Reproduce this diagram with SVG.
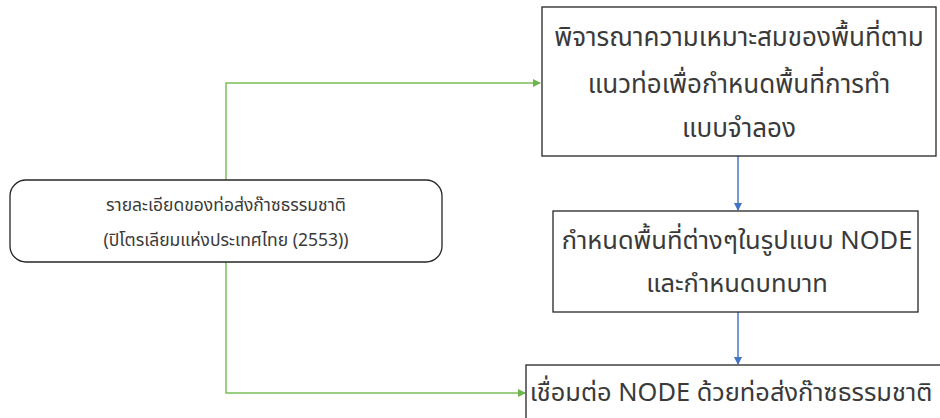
<svg xmlns="http://www.w3.org/2000/svg" width="940" height="418" viewBox="0 0 940 418">
<style>
.box{fill:#fff;stroke:#262626;stroke-width:1.3}
.t{font-family:"Noto Sans Thai","Leelawadee UI","Noto Sans","DejaVu Sans",sans-serif;fill:#3a3a3a;text-anchor:middle}
.g{fill:none;stroke:#7ac05a;stroke-width:1.5}
.b{fill:none;stroke:#4a78c8;stroke-width:1.5}
</style>
<defs>
<marker id="ag" markerWidth="8" markerHeight="8" refX="7" refY="4" orient="auto" markerUnits="userSpaceOnUse"><path d="M0,0 L8,4 L0,8 Z" fill="#6fb54d"/></marker>
<marker id="ab" markerWidth="8" markerHeight="8" refX="7" refY="4" orient="auto" markerUnits="userSpaceOnUse"><path d="M0,0 L8,4 L0,8 Z" fill="#4472c4"/></marker>
</defs>
<rect width="940" height="418" fill="#fff"/>
<g id="connectors">
<path class="g" d="M226,180 V83 H540" marker-end="url(#ag)"/>
<path class="g" d="M226,262 V393 H525" marker-end="url(#ag)"/>
<path class="b" d="M738,156 V210" marker-end="url(#ab)"/>
<path class="b" d="M738,312 V364" marker-end="url(#ab)"/>
</g>
<g id="node-source">
<rect class="box" x="10" y="180" width="432" height="82" rx="16"/>
<text class="t" x="226" y="211" font-size="17.5">รายละเอียดของท่อส่งก๊าซธรรมชาติ</text>
<text class="t" x="226" y="246" font-size="17.5">(ปิโตรเลียมแห่งประเทศไทย (2553))</text>
</g>
<g id="node-consider">
<rect class="box" x="542" y="7" width="394" height="149"/>
<text class="t" x="739" y="46" font-size="26">พิจารณาความเหมาะสมของพื้นที่ตาม</text>
<text class="t" x="739" y="93" font-size="26">แนวท่อเพื่อกำหนดพื้นที่การทำ</text>
<text class="t" x="739" y="137" font-size="26">แบบจำลอง</text>
</g>
<g id="node-define">
<rect class="box" x="553" y="211" width="365" height="101"/>
<text class="t" x="737" y="249" font-size="25.5">กำหนดพื้นที่ต่างๆในรูปแบบ NODE</text>
<text class="t" x="737" y="292" font-size="25.5">และกำหนดบทบาท</text>
</g>
<g id="node-connect">
<rect class="box" x="526" y="365" width="430" height="80"/>
<text class="t" x="731" y="401" font-size="25.4">เชื่อมต่อ NODE ด้วยท่อส่งก๊าซธรรมชาติ</text>
</g>
</svg>
